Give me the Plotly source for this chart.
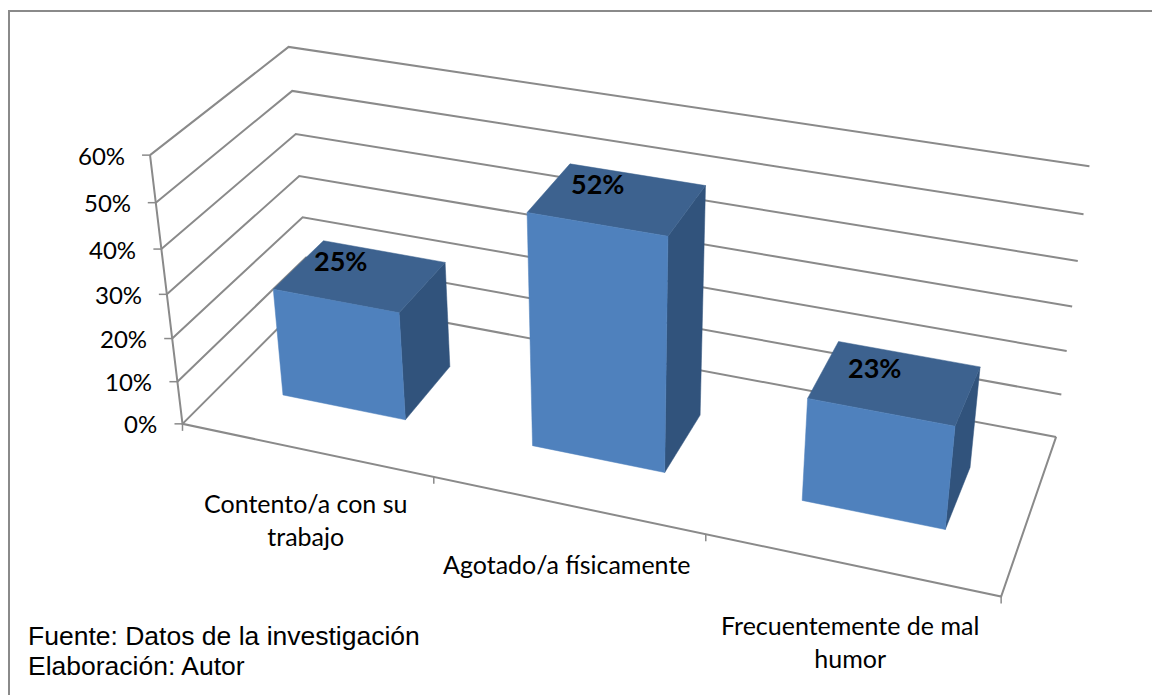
import numpy as np
import plotly.graph_objects as go

# Chart data
categories = ['Contento/a con su<br>trabajo', 'Agotado/a físicamente', 'Frecuentemente de mal<br>humor']
values = [0.25, 0.52, 0.23]
value_labels = ['25%', '52%', '23%']
tick_values = [0, 0.1, 0.2, 0.3, 0.4, 0.5, 0.6]
tick_labels = ['0%', '10%', '20%', '30%', '40%', '50%', '60%']
source_lines = ['Fuente: Datos de la investigación', 'Elaboración: Autor']

# Perspective camera of the Excel 3D column chart
EYE = np.array([1.1605, -3.1833, 1.9077])
TARGET = np.array([0.0227, -0.0697, -0.0231])
BOX = np.array([1.5579, 0.5212, 0.5605])
FOCAL, CX, CY = 2143.34, 615.8, 331.75

BAR_GAP = 0.25
DEPTH_FRONT, DEPTH_BACK = 0.302, 0.70

# Distance between the axis and the first line of each category label
LABEL_DROP = [36, 42, 43]

GRID = '#8A8A8A'
FRONT, TOP, SIDE = '#4F81BD', '#3D628F', '#31537C'
BODY_FONT = 'Lato'


def project(cat, depth, val):
    '''
        Projects a chart position (category, depth, value) on the page.
    '''
    point = np.array([(cat / 3 - 0.5), depth - 0.5, val / 0.6 - 0.5]) * BOX - EYE
    forward = TARGET - EYE
    forward = forward / np.linalg.norm(forward)
    right = np.cross(forward, [0, 0, 1])
    right = right / np.linalg.norm(right)
    up = np.cross(right, forward)
    dist = point @ forward
    return CX + FOCAL * (point @ right) / dist, CY - FOCAL * (point @ up) / dist


def add_line(fig, points, width=2):
    xs, ys = zip(*points)
    fig.add_trace(go.Scatter(x=xs, y=ys, mode='lines', hoverinfo='skip',
                             line=dict(color=GRID, width=width)))


def add_face(fig, corners, color):
    xs, ys = zip(*[project(*c) for c in corners])
    fig.add_trace(go.Scatter(x=list(xs) + [xs[0]], y=list(ys) + [ys[0]], mode='lines',
                             fill='toself', fillcolor=color, hoverinfo='skip',
                             line=dict(color=color, width=0.5)))


fig = go.Figure()

# Walls and floor
for tick, label in zip(tick_values, tick_labels):
    add_line(fig, [project(0, 0, tick), project(0, 1, tick), project(3, 1, tick)])
    px, py = project(0, 0, tick)
    add_line(fig, [(px - 8, py), (px, py)], width=1.5)
    fig.add_annotation(x=px - 23, y=py, text=label, xanchor='right', yanchor='middle',
                       showarrow=False, font=dict(family=BODY_FONT, size=24, color='black'))

add_line(fig, [project(0, 0, 0.6), project(0, 0, 0), project(3, 0, 0), project(3, 1, 0)])
for i in range(4):
    px, py = project(i, 0, 0)
    add_line(fig, [(px, py), (px, py + 7)], width=1.5)

# Bars and labels
for i, val in enumerate(values):
    x0, x1 = i + BAR_GAP, i + 1 - BAR_GAP
    add_face(fig, [(x1, DEPTH_FRONT, 0), (x1, DEPTH_BACK, 0), (x1, DEPTH_BACK, val), (x1, DEPTH_FRONT, val)], SIDE)
    add_face(fig, [(x0, DEPTH_FRONT, val), (x1, DEPTH_FRONT, val), (x1, DEPTH_BACK, val), (x0, DEPTH_BACK, val)], TOP)
    add_face(fig, [(x0, DEPTH_FRONT, 0), (x1, DEPTH_FRONT, 0), (x1, DEPTH_FRONT, val), (x0, DEPTH_FRONT, val)], FRONT)

    px, py = project(i + 0.5, 0.5, val)
    fig.add_annotation(x=px - 20, y=py - 15, text='<b>%s</b>' % value_labels[i], showarrow=False,
                       font=dict(family=BODY_FONT, size=27, color='black'))

    px, py = project(i + 0.5, 0, 0)
    fig.add_annotation(x=px, y=py + LABEL_DROP[i], text=categories[i], yanchor='top', showarrow=False,
                       font=dict(family=BODY_FONT, size=25, color='black'))

for line, y in zip(source_lines, [636, 666]):
    fig.add_annotation(x=26, y=y, text=line, xanchor='left', yanchor='middle', showarrow=False,
                       font=dict(family='Liberation Sans', size=26.5, color='black'))

# Page is offset by the 8px body margin, axes keep the picture's pixel coordinates
fig.update_layout(
    width=1152, height=687, margin=dict(l=0, r=0, t=0, b=0),
    paper_bgcolor='white', plot_bgcolor='white', showlegend=False,
    xaxis=dict(range=[8, 1160], visible=False),
    yaxis=dict(range=[695, 8], visible=False),
    shapes=[
        dict(type='line', x0=9, y0=11, x1=1160, y1=11, line=dict(color=GRID, width=2)),
        dict(type='line', x0=9, y0=10, x1=9, y1=695, line=dict(color=GRID, width=2)),
    ],
)

fig.write_html('out.html')
